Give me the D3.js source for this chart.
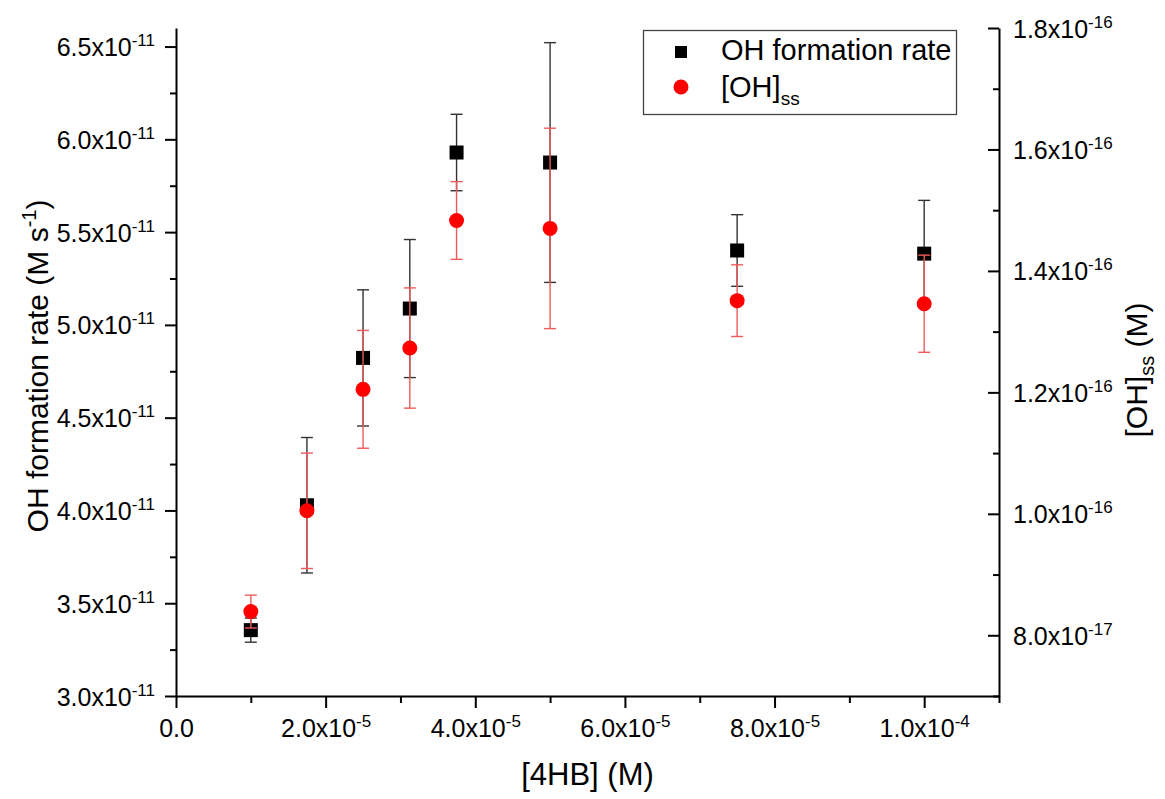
<!DOCTYPE html>
<html>
<head>
<meta charset="utf-8">
<script src="https://cdn.jsdelivr.net/npm/d3@7"></script>
<style>
  html, body { margin: 0; padding: 0; background: #fff; }
  svg { display: block; }
  text { font-family: "Liberation Sans", Arial, sans-serif; fill: #000; }
</style>
</head>
<body>
<svg id="chart" width="1165" height="799"></svg>
<script>
// ---- data ----
const conc    = [1.0e-5, 1.75e-5, 2.5e-5, 3.125e-5, 3.75e-5, 5.0e-5, 7.5e-5, 1.0e-4];
const rate    = [3.355e-11, 4.028e-11, 4.822e-11, 5.088e-11, 5.929e-11, 5.875e-11, 5.401e-11, 5.384e-11];
const rateErr = [0.065e-11, 0.365e-11, 0.367e-11, 0.372e-11, 0.206e-11, 0.646e-11, 0.193e-11, 0.287e-11];
const ohss    = [0.839e-16, 1.005e-16, 1.205e-16, 1.273e-16, 1.483e-16, 1.470e-16, 1.351e-16, 1.346e-16];
const ohssErr = [0.027e-16, 0.095e-16, 0.097e-16, 0.099e-16, 0.064e-16, 0.165e-16, 0.059e-16, 0.080e-16];

// ---- ticks ----
const xTicks      = [0, 2e-5, 4e-5, 6e-5, 8e-5, 1e-4];
const xTickLabels = [["0.0", ""], ["2.0", "-5"], ["4.0", "-5"], ["6.0", "-5"], ["8.0", "-5"], ["1.0", "-4"]];
const xMinor      = [1e-5, 3e-5, 5e-5, 7e-5, 9e-5, 1.1e-4];
const yLTicks      = [3.0e-11, 3.5e-11, 4.0e-11, 4.5e-11, 5.0e-11, 5.5e-11, 6.0e-11, 6.5e-11];
const yLTickLabels = [["3.0","-11"],["3.5","-11"],["4.0","-11"],["4.5","-11"],["5.0","-11"],["5.5","-11"],["6.0","-11"],["6.5","-11"]];
const yLMinor      = [3.25e-11, 3.75e-11, 4.25e-11, 4.75e-11, 5.25e-11, 5.75e-11, 6.25e-11];
const yRTicks      = [0.8e-16, 1.0e-16, 1.2e-16, 1.4e-16, 1.6e-16, 1.8e-16];
const yRTickLabels = [["8.0","-17"],["1.0","-16"],["1.2","-16"],["1.4","-16"],["1.6","-16"],["1.8","-16"]];
const yRMinor      = [0.7e-16, 0.9e-16, 1.1e-16, 1.3e-16, 1.5e-16, 1.7e-16];

const seriesNames = ["OH formation rate", "[OH]"];

// ---- layout ----
const L = 176, R = 999, T = 28, B = 696;
const svg = d3.select("#chart");

const x  = d3.scaleLinear().domain([0, 1.1e-4]).range([L, R]);
const yL = d3.scaleLinear().domain([3.0e-11, 6.6e-11]).range([B, T]);
const yR = d3.scaleLinear().domain([0.7e-16, 1.8e-16]).range([B, T]);

const TICK_FONT = 25;

function supLabels(sel, labels, vals) {
  sel.selectAll(".tick text").each(function(d) {
    const i = vals.findIndex(v => Math.abs(v - d) < Math.abs(d) * 1e-6 + 1e-30);
    const t = d3.select(this).text(null);
    const lab = labels[i];
    t.append("tspan").text(lab[0] + (lab[1] ? "x10" : ""));
    if (lab[1]) {
      t.append("tspan").attr("dy", -10).attr("font-size", 17).text(lab[1]);
    }
  });
}

function styleAxis(g) {
  g.selectAll("path.domain").attr("stroke", "#000").attr("stroke-width", 2);
  g.selectAll(".tick line").attr("stroke", "#000").attr("stroke-width", 2);
  g.selectAll("text").attr("font-size", TICK_FONT).attr("fill", "#000")
    .attr("font-family", "'Liberation Sans', Arial, sans-serif");
}

// bottom axis
const gx = svg.append("g").attr("transform", `translate(0,${B})`)
  .call(d3.axisBottom(x).tickValues(xTicks).tickSize(12).tickSizeOuter(0).tickPadding(8));
styleAxis(gx);
gx.selectAll(".tick text").attr("dy", null).attr("y", 41);
supLabels(gx, xTickLabels, xTicks);
const gxm = svg.append("g").attr("transform", `translate(0,${B})`)
  .call(d3.axisBottom(x).tickValues(xMinor).tickSize(7).tickSizeOuter(0).tickFormat(""));
styleAxis(gxm);
gxm.select("path.domain").remove();

// left axis
const gl = svg.append("g").attr("transform", `translate(${L},0)`)
  .call(d3.axisLeft(yL).tickValues(yLTicks).tickSize(11).tickSizeOuter(0).tickPadding(10));
styleAxis(gl);
gl.selectAll(".tick text").attr("dy", null).attr("y", 9);
supLabels(gl, yLTickLabels, yLTicks);
const glm = svg.append("g").attr("transform", `translate(${L},0)`)
  .call(d3.axisLeft(yL).tickValues(yLMinor).tickSize(6).tickSizeOuter(0).tickFormat(""));
styleAxis(glm);
glm.select("path.domain").remove();

// right axis (ticks pointing inward)
const gr = svg.append("g").attr("transform", `translate(${R},0)`)
  .call(d3.axisRight(yR).tickValues(yRTicks).tickSize(-11).tickSizeOuter(0).tickPadding(14));
styleAxis(gr);
gr.selectAll(".tick text").attr("dy", null).attr("y", 9).attr("x", 14);
supLabels(gr, yRTickLabels, yRTicks);
const grm = svg.append("g").attr("transform", `translate(${R},0)`)
  .call(d3.axisRight(yR).tickValues(yRMinor).tickSize(-6).tickSizeOuter(0).tickFormat(""));
styleAxis(grm);
grm.select("path.domain").remove();

// axis titles
svg.append("text").attr("x", (L + R) / 2).attr("y", 785)
  .attr("text-anchor", "middle").attr("font-size", 31).text("[4HB] (M)");

const lt = svg.append("text").attr("transform", `translate(48,366) rotate(-90)`)
  .attr("text-anchor", "middle").attr("font-size", 30);
lt.append("tspan").text("OH formation rate (M s");
lt.append("tspan").attr("dy", -12).attr("font-size", 20).text("-1");
lt.append("tspan").attr("dy", 12).text(")");

const rt = svg.append("text").attr("transform", `translate(1147,370) rotate(-90)`)
  .attr("text-anchor", "middle").attr("font-size", 30);
rt.append("tspan").text("[OH]");
rt.append("tspan").attr("dy", 7).attr("font-size", 20).text("ss");
rt.append("tspan").attr("dy", -7).text(" (M)");

// ---- data marks ----
const pts = conc.map((c, i) => ({c, r: rate[i], re: rateErr[i], o: ohss[i], oe: ohssErr[i]}));
const CAP = 6;

const gBlackErr = svg.append("g").attr("stroke", "#333").attr("stroke-width", 1.4);
pts.forEach(p => {
  const cx = x(p.c), y1 = yL(p.r + p.re), y2 = yL(p.r - p.re);
  gBlackErr.append("line").attr("x1", cx).attr("x2", cx).attr("y1", y1).attr("y2", y2);
  gBlackErr.append("line").attr("x1", cx - CAP).attr("x2", cx + CAP).attr("y1", y1).attr("y2", y1);
  gBlackErr.append("line").attr("x1", cx - CAP).attr("x2", cx + CAP).attr("y1", y2).attr("y2", y2);
});
svg.append("g").selectAll("rect").data(pts).join("rect")
  .attr("x", d => x(d.c) - 7).attr("y", d => yL(d.r) - 7)
  .attr("width", 14).attr("height", 14).attr("fill", "#000");

const gRedErr = svg.append("g").attr("stroke", "#ee5a5a").attr("stroke-width", 1.4);
pts.forEach(p => {
  const cx = x(p.c), y1 = yR(p.o + p.oe), y2 = yR(p.o - p.oe);
  gRedErr.append("line").attr("x1", cx).attr("x2", cx).attr("y1", y1).attr("y2", y2);
  gRedErr.append("line").attr("x1", cx - CAP).attr("x2", cx + CAP).attr("y1", y1).attr("y2", y1);
  gRedErr.append("line").attr("x1", cx - CAP).attr("x2", cx + CAP).attr("y1", y2).attr("y2", y2);
});
svg.append("g").selectAll("circle").data(pts).join("circle")
  .attr("cx", d => x(d.c)).attr("cy", d => yR(d.o)).attr("r", 7.5).attr("fill", "#ff0000");

// ---- legend ----
const lg = svg.append("g");
lg.append("rect").attr("x", 643.5).attr("y", 30.5).attr("width", 313).attr("height", 84)
  .attr("fill", "#fff").attr("stroke", "#444").attr("stroke-width", 1.3);
lg.append("rect").attr("x", 675).attr("y", 46).attr("width", 12).attr("height", 12).attr("fill", "#000");
lg.append("circle").attr("cx", 681).attr("cy", 87).attr("r", 7.5).attr("fill", "#ff0000");
lg.append("text").attr("x", 721).attr("y", 60).attr("font-size", 29).text(seriesNames[0]);
const l2 = lg.append("text").attr("x", 721).attr("y", 97).attr("font-size", 29);
l2.append("tspan").text(seriesNames[1]);
l2.append("tspan").attr("dy", 8).attr("font-size", 19).text("ss");
</script>
</body>
</html>
